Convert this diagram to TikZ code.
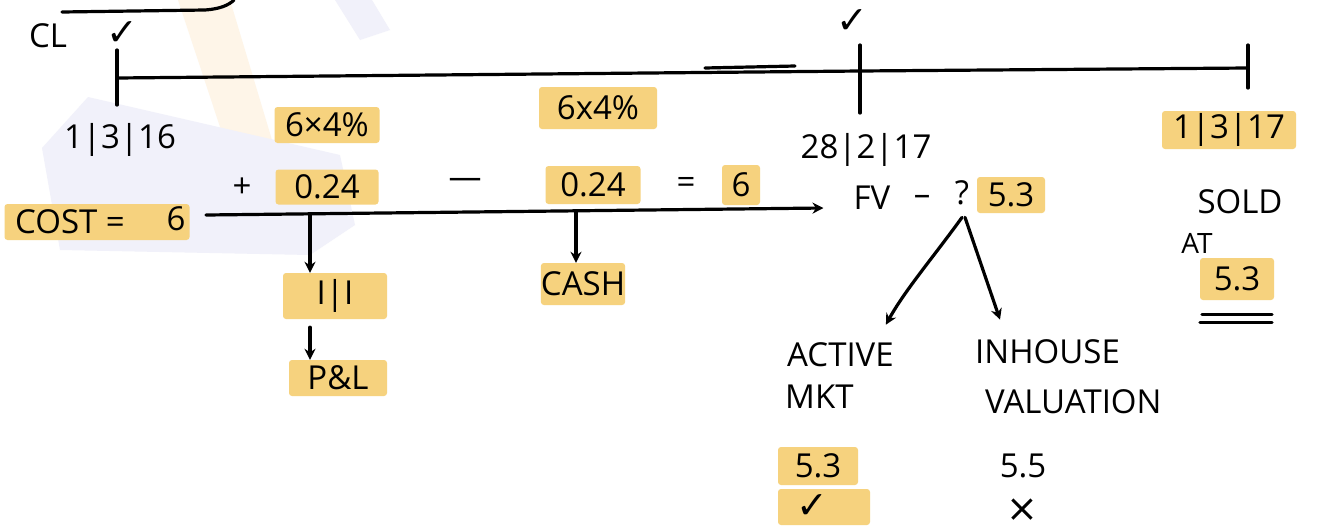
\documentclass[tikz,border=0pt]{standalone}
\usepackage{fontspec}
\setmainfont{Open Sans}
\newfontfamily\symfont{DejaVu Sans}
\usetikzlibrary{arrows.meta}
\definecolor{hlc}{HTML}{F6D27E}
\definecolor{wmblue}{HTML}{F1F1FA}
\definecolor{wmorange}{HTML}{FEF5E8}
\begin{document}
\begin{tikzpicture}[x=1pt,y=-1pt, line cap=round, line join=round,
  pen/.style={line width=3.2pt, draw=black},
  txt/.style={font=\fontsize{33}{37}\selectfont, inner sep=0pt},
  small/.style={font=\fontsize{28}{32}\selectfont, inner sep=0pt},
  sym/.style={font=\symfont\fontsize{38}{42}\selectfont, inner sep=0pt},
  hl/.style={txt, fill=hlc, rounded corners=3pt},
  hlbox/.style={fill=hlc, rounded corners=3pt, inner sep=0pt},
  arr/.style={pen, -{Stealth[length=11pt,width=11pt]}}]
\useasboundingbox (0,0) rectangle (1330,528);
\fill[white] (0,0) rectangle (1330,528);
% faint watermark shapes
\fill[wmorange] (178,0) -- (230,0) -- (272,140) -- (225,142) -- cycle;
\fill[wmblue] (42,148) -- (88,97) -- (340,155) -- (355,225) -- (310,255) -- (60,250) -- cycle;
\fill[wmblue] (335,0) -- (372,0) -- (390,30) -- (360,40) -- cycle;

% top fragment
\draw[pen] (62,12) -- (205,10) .. controls (220,9) and (229,5) .. (234,0);
\node[txt] (cl) at (48,36) {CL};
\node[sym] (chk1) at (122,34) {✓};

% timeline
\coordinate (t1a) at (117,50); \coordinate (t1b) at (117,105);
\coordinate (t2a) at (860,45); \coordinate (t2b) at (860,113);
\coordinate (t3a) at (1248,45); \coordinate (t3b) at (1248,88);
\coordinate (tl0) at (117,78); \coordinate (tl1) at (1248,68);
\draw[pen] (t1a) -- (t1b);
\draw[pen] (t2a) -- (t2b);
\draw[pen] (t3a) -- (t3b);
\draw[pen] (tl0) -- (860,71) -- (tl1);
\draw[pen] (705,68) -- (795,66);
\node[sym] (chk2) at (852,22) {✓};

% dates
\node[txt] (d1) at (120,140) {1|3|16};
\node[txt] (d2) at (866,150) {28|2|17};
\node[hl, minimum width=134pt, minimum height=38pt] (d3) at (1229,130) {1|3|17};

% interest computations
\node[hl, minimum width=105pt, minimum height=36pt] (int1) at (327,125) {6×4\%};
\node[txt] (plus) at (242,188) {+};
\node[hl, minimum width=103pt, minimum height=35pt] (v1) at (327,187) {0.24};
\node[txt] (minus) at (465,183) {—};
\node[hl, minimum width=118pt, minimum height=42pt] (int2) at (598,108) {6x4\%};
\node[hl, minimum width=95pt, minimum height=38pt] (v2) at (593,185) {0.24};
\node[txt] (eq) at (686,185) {=};
\node[hl, minimum width=38pt, minimum height=40pt] (six2) at (741,185) {6};

% cost
\node[hlbox, minimum width=185pt, minimum height=36pt] (costbg) at (97,222) {};
\node[txt] (cost) at (70,222) {COST =};
\node[txt] (six) at (176,219) {6};

% fair value
\node[txt] (fv) at (872,198) {FV};
\node[txt] (dash) at (922,200) {–};
\node[txt] (q) at (962,193) {?};
\node[hl, minimum width=68pt, minimum height=36pt] (fvv) at (1011,195) {5.3};

% main arrow
\coordinate (ms) at (206,215);
\draw[arr] (ms) -- ([xshift=-30pt,yshift=-10pt]fv.west);

% I|I and P&L
\coordinate (j1) at (310,214);
\node[hl, minimum width=104pt, minimum height=46pt] (ii) at (335,296) {I|I};
\node[hl, minimum width=98pt, minimum height=36pt] (pl) at (338,378) {P\&L};
\draw[arr] (j1) -- (j1 |- ii.north);
\draw[arr] ([yshift=-8pt]j1 |- ii.south) -- (j1 |- pl.north);

% cash
\coordinate (j2) at (576,212);
\node[hl, minimum width=76pt, minimum height=42pt] (cash) at (583,284) {CASH};
\draw[arr] (j2) -- (j2 |- cash.north);

% branches
\node[txt, anchor=west] (act) at (787,355) {ACTIVE};
\node[txt, anchor=west] (mkt) at (785,397) {MKT};
\node[txt, anchor=west] (inh) at (975,352) {INHOUSE};
\node[txt, anchor=west] (val) at (985,402) {VALUATION};
\draw[arr] ([yshift=-12pt]q.south) .. controls (935,255) and (905,290) .. ([xshift=-8pt,yshift=18pt]act.north east);
\draw[arr] ([xshift=3pt,yshift=-12pt]q.south) -- ([xshift=25pt,yshift=20pt]inh.north west);

\node[hl, minimum width=80pt, minimum height=38pt] (am) at (818,466) {5.3};
\node[hlbox, minimum width=92pt, minimum height=36pt] (amc) at (824,507) {};
\node[sym] (chk3) at (812,507) {✓};
\node[txt] (iv) at (1023,466) {5.5};
\node[sym] (ivx) at (1022,510) {×};

% sold
\node[txt] (sold) at (1240,202) {SOLD};
\node[small] (at) at (1197,243) {AT};
\node[hl, minimum width=74pt, minimum height=42pt] (sv) at (1237,279) {5.3};
\draw[pen] ([xshift=-35pt,yshift=-14pt]sv.south) -- ([xshift=35pt,yshift=-14pt]sv.south);
\draw[pen] ([xshift=-37pt,yshift=-22pt]sv.south) -- ([xshift=35pt,yshift=-22pt]sv.south);
\end{tikzpicture}
\end{document}
